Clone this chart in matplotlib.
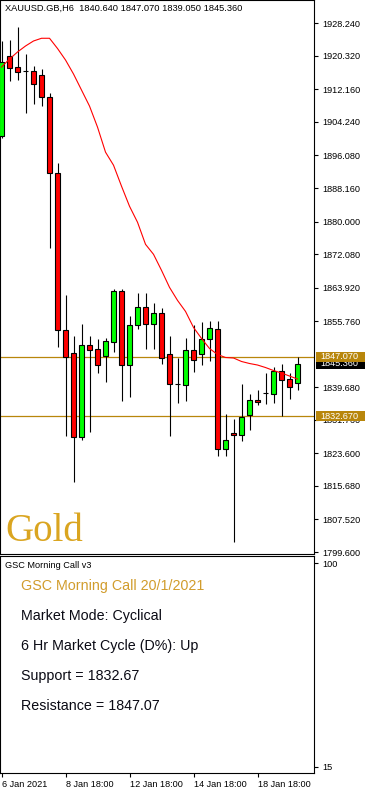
import matplotlib.pyplot as plt
from matplotlib.patches import Rectangle

plt.rcParams['font.family'] = ['Liberation Sans', 'DejaVu Sans']

# H6 candles XAUUSD
opens = [1900.85, 1920.27, 1917.59, 1916.62, 1916.62, 1915.57, 1910.21, 1891.84,
         1853.68, 1848.08, 1827.61, 1850.03, 1849.05, 1847.25, 1850.66, 1863.01,
         1845.15, 1854.90, 1859.11, 1855.14, 1857.65, 1847.90, 1840.43, 1840.28,
         1848.81, 1847.83, 1851.49, 1853.92, 1824.68, 1828.66, 1828.10, 1832.97,
         1836.70, 1838.23, 1837.99, 1843.76, 1841.81, 1840.64]
highs = [1923.93, 1924.17, 1927.41, 1920.76, 1917.84, 1917.10, 1911.26, 1894.20,
         1862.04, 1852.05, 1855.14, 1852.05, 1851.32, 1851.56, 1863.50, 1863.50,
         1856.99, 1862.70, 1862.52, 1860.09, 1858.87, 1852.05, 1846.76, 1851.63,
         1854.90, 1855.46, 1855.78, 1855.78, 1833.29, 1832.07, 1840.60, 1838.16,
         1839.13, 1843.28, 1844.74, 1845.23, 1843.28, 1847.07]
lows = [1900.41, 1914.25, 1914.42, 1906.31, 1908.65, 1908.09, 1873.56, 1849.44,
        1827.75, 1816.55, 1826.95, 1828.73, 1843.15, 1840.91, 1848.22, 1836.28,
        1837.26, 1853.92, 1848.88, 1848.88, 1845.40, 1827.75, 1835.79, 1836.45,
        1843.35, 1845.15, 1846.20, 1822.88, 1822.88, 1801.93, 1826.63, 1829.22,
        1835.41, 1835.55, 1835.79, 1832.67, 1836.77, 1839.05]
closes = [1918.74, 1917.28, 1916.30, 1916.62, 1913.38, 1910.21, 1891.84, 1853.68,
          1847.00, 1827.61, 1850.03, 1848.76, 1845.15, 1850.83, 1863.01, 1845.15,
          1854.73, 1859.11, 1855.14, 1857.65, 1846.69, 1840.47, 1840.43, 1848.81,
          1846.37, 1851.49, 1854.17, 1824.68, 1826.95, 1828.10, 1832.55, 1836.70,
          1836.04, 1838.23, 1843.59, 1841.40, 1839.69, 1845.36]
# moving average (red line)
ma = [1917.59, 1919.54, 1921.25, 1922.71, 1923.93, 1924.59, 1924.59, 1922.10,
      1919.30, 1915.89, 1911.99, 1908.09, 1902.97, 1896.88, 1893.71, 1888.60,
      1883.72, 1879.83, 1874.46, 1872.03, 1868.13, 1863.99, 1860.82, 1858.14,
      1854.24, 1851.56, 1849.12, 1847.66, 1846.93, 1846.81, 1845.96, 1845.47,
      1845.10, 1844.49, 1843.76, 1843.15, 1842.42, 1841.69]

support = 1832.67
resistance = 1847.07
last_price = 1845.36

price_ticks = [1928.24, 1920.32, 1912.16, 1904.24, 1896.08, 1888.16, 1880.00,
               1872.08, 1863.92, 1855.76, 1839.68, 1831.76, 1823.60,
               1815.68, 1807.52, 1799.60]
date_pos = [0, 8, 16, 24, 32]
date_labels = ['6 Jan 2021', '8 Jan 18:00', '12 Jan 18:00', '14 Jan 18:00', '18 Jan 18:00']

W, H = 365, 791
fig = plt.figure(figsize=(W / 100, H / 100), dpi=100)
ax = fig.add_axes([0.0, (H - 553.7) / H, 314 / W, 553.7 / H])
sub = fig.add_axes([0.0, (H - 773.3) / H, 314 / W, 217.3 / H], sharex=ax)

x = list(range(len(opens)))
gold_line = '#B8860B'

# wicks and bodies
ax.vlines(x, lows, highs, color='black', linewidth=0.8, zorder=2)
body_col = []
for o, c in zip(opens, closes):
    if c > o:
        body_col.append('#00FF00')
    elif c < o:
        body_col.append('#FF0000')
    else:
        body_col.append('black')
bottoms = [min(o, c) for o, c in zip(opens, closes)]
heights = [abs(c - o) for o, c in zip(opens, closes)]
ax.bar(x, heights, bottom=bottoms, width=0.62, color=body_col,
       edgecolor='black', linewidth=0.8, zorder=3)

ax.plot(x, ma, color='#FF0000', linewidth=0.8, zorder=4)

ax.axhline(resistance, color=gold_line, linewidth=0.9, zorder=1)
ax.axhline(support, color=gold_line, linewidth=0.9, zorder=1)

ax.set_xlim(-0.19, 39.06)
ax.set_ylim(1799.2, 1933.9)
ax.yaxis.tick_right()
ax.set_yticks(price_ticks)
ax.set_yticklabels(['%.3f' % t for t in price_ticks])
ax.tick_params(axis='y', direction='out', length=3, width=0.8, labelsize=6.6, pad=3)
ax.tick_params(axis='x', bottom=False, labelbottom=False)
for s in ax.spines.values():
    s.set_linewidth(0.8)


def price_tag(value, fc, z):
    tr = ax.get_yaxis_transform()
    h = 9.4 / 4.104
    ax.add_patch(Rectangle((1.006, value - h / 2), 0.16, h, transform=tr,
                           facecolor=fc, edgecolor='none', clip_on=False, zorder=z))
    ax.text(1.02, value, '%.3f' % value, transform=tr, color='white', fontsize=6.6,
            va='center', ha='left', clip_on=False, zorder=z + 0.5)


price_tag(last_price, 'black', 5)
price_tag(resistance, gold_line, 6)
price_tag(support, gold_line, 6)

fig.text(5 / W, 1 - 8 / H, 'XAUUSD.GB,H6  1840.640 1847.070 1839.050 1845.360',
         fontsize=6.7, va='center', ha='left')
fig.text(5 / W, 1 - 541 / H, 'Gold', family=['Liberation Serif', 'DejaVu Serif'],
         fontsize=28, color='#DAA520', va='baseline', ha='left')

# lower panel
sub.set_ylim(12.24, 103.05)
sub.yaxis.tick_right()
sub.set_yticks([15, 100])
sub.set_yticklabels(['15', '100'])
sub.tick_params(axis='y', direction='out', length=3, width=0.8, labelsize=6.6, pad=3)
sub.set_xticks(date_pos)
sub.set_xticklabels(date_labels)
for lab in sub.get_xticklabels():
    lab.set_ha('left')
sub.tick_params(axis='x', direction='out', length=3, width=0.8, labelsize=6.6, pad=1.5)
for s in sub.spines.values():
    s.set_linewidth(0.8)

fig.text(5 / W, 1 - 566 / H, 'GSC Morning Call v3', fontsize=6.6, va='center', ha='left')
fig.text(21 / W, 1 - 586 / H, 'GSC Morning Call 20/1/2021', fontsize=10.3,
         color='#D19C2C', va='center', ha='left')
lines = ['Market Mode: Cyclical', '6 Hr Market Cycle (D%): Up',
         'Support = %.2f' % support, 'Resistance = %.2f' % resistance]
for i, t in enumerate(lines):
    fig.text(21 / W, 1 - (616 + 30 * i) / H, t, fontsize=10.3, color='#0a0a14',
             va='center', ha='left')

fig.savefig('out.png', dpi=100)
